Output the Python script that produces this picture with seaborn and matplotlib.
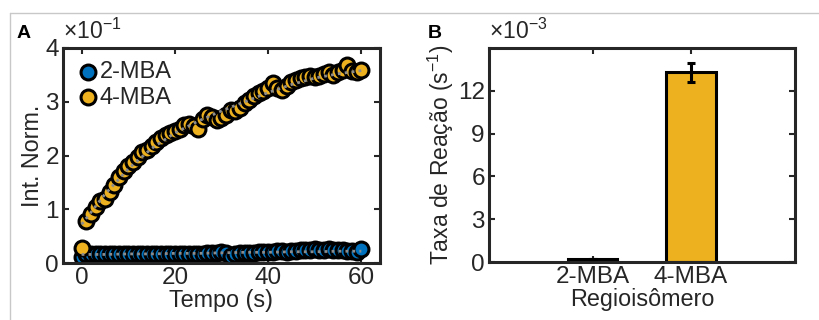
import matplotlib
matplotlib.use("Agg")
import matplotlib.pyplot as plt
from matplotlib.lines import Line2D
from matplotlib.ticker import FuncFormatter
import numpy as np
import pandas as pd
import seaborn as sns

# --- data ---
tempo = list(range(0, 61))
int_4mba = [0.028, 0.078, 0.092, 0.105, 0.115, 0.120, 0.132, 0.145, 0.160, 0.172,
            0.180, 0.188, 0.197, 0.206, 0.210, 0.218, 0.226, 0.232, 0.238, 0.242,
            0.246, 0.250, 0.256, 0.258, 0.254, 0.250, 0.268, 0.276, 0.272, 0.266,
            0.270, 0.276, 0.284, 0.282, 0.288, 0.298, 0.304, 0.310, 0.316, 0.320,
            0.326, 0.334, 0.325, 0.322, 0.330, 0.336, 0.340, 0.344, 0.346, 0.348,
            0.346, 0.348, 0.352, 0.356, 0.350, 0.356, 0.360, 0.368, 0.358, 0.356,
            0.360]
int_2mba = [0.012, 0.016, 0.017, 0.016, 0.017, 0.017, 0.016, 0.017, 0.017, 0.016,
            0.017, 0.017, 0.016, 0.017, 0.017, 0.016, 0.016, 0.017, 0.017, 0.016,
            0.017, 0.017, 0.016, 0.017, 0.017, 0.016, 0.017, 0.018, 0.018, 0.019,
            0.020, 0.018, 0.014, 0.016, 0.018, 0.018, 0.019, 0.019, 0.020, 0.020,
            0.021, 0.021, 0.022, 0.022, 0.021, 0.022, 0.023, 0.024, 0.025, 0.025,
            0.026, 0.025, 0.025, 0.026, 0.025, 0.024, 0.024, 0.023, 0.022, 0.021,
            0.026]
fit_t = [0, 5, 10, 15, 20, 25, 30, 35, 40, 45, 50, 55, 60]
fit_4mba = [0.072, 0.128, 0.175, 0.213, 0.242, 0.264, 0.283, 0.300, 0.317, 0.332,
            0.344, 0.352, 0.358]
fit_2mba = [0.016, 0.016, 0.017, 0.017, 0.018, 0.018, 0.019, 0.020, 0.020, 0.021,
            0.021, 0.022, 0.022]

isomeros = ["2-MBA", "4-MBA"]
taxa = [0.00025, 0.0133]
taxa_err = [0.0, 0.00065]

blue = "#0072BD"
yellow = "#EDB120"
axcol = "#262626"

sns.set_theme(style="ticks")
plt.rcParams["font.family"] = ["Liberation Sans", "DejaVu Sans"]
plt.rcParams["mathtext.fontset"] = "custom"
plt.rcParams["mathtext.rm"] = "Liberation Sans"
plt.rcParams["mathtext.it"] = "Liberation Sans"

fig = plt.figure(figsize=(8.2, 3.2), dpi=100)
axA = fig.add_axes([0.0768, 0.178, 0.3866, 0.672])
axB = fig.add_axes([0.5963, 0.181, 0.3732, 0.669])

# frame lines of the page
fig.add_artist(Line2D([0.012, 1.0], [0.958, 0.958], color="#c8c8c8", lw=1.0))
fig.add_artist(Line2D([0.012, 0.012], [0.0, 0.958], color="#c8c8c8", lw=1.0))

# --- panel A ---
dfA = pd.DataFrame({"t": tempo + tempo,
                    "v": int_2mba + int_4mba,
                    "s": ["2-MBA"] * len(tempo) + ["4-MBA"] * len(tempo)})
for name, col in [("2-MBA", blue), ("4-MBA", yellow)]:
    sub = dfA[dfA["s"] == name]
    sns.scatterplot(data=sub, x="t", y="v", ax=axA, color=col, s=115,
                    edgecolor="black", linewidth=2.2, label=name, zorder=2)
sns.lineplot(x=fit_t, y=fit_2mba, ax=axA, color="#8c8c8c", lw=2.0,
             linestyle=(0, (1, 1.5)), zorder=3)
sns.lineplot(x=fit_t, y=fit_4mba, ax=axA, color="#8c8c8c", lw=2.0,
             linestyle=(0, (1, 1.5)), zorder=3)

axA.set_xlim(-4, 64)
axA.set_ylim(0, 0.4)
axA.set_xticks([0, 20, 40, 60])
axA.set_yticks([0, 0.1, 0.2, 0.3, 0.4])
axA.yaxis.set_major_formatter(FuncFormatter(lambda v, p: f"{v * 10:g}"))
axA.set_xlabel("Tempo (s)", fontsize=16.8, color=axcol, labelpad=0)
axA.set_ylabel("Int. Norm.", fontsize=16.8, color=axcol, labelpad=1)
leg = axA.legend(loc="upper left", frameon=False, fontsize=17, handletextpad=0.0,
                 borderaxespad=0.1, labelspacing=0.15, borderpad=0.45,
                 handlelength=1.0)
for t in leg.get_texts():
    t.set_color(axcol)
axA.text(0.0, 1.02, r"$\times 10^{-1}$", transform=axA.transAxes, fontsize=16.5,
         color=axcol, ha="left", va="bottom")

# --- panel B ---
sns.barplot(x=isomeros, y=taxa, ax=axB, color=yellow, width=0.5,
            edgecolor="black", linewidth=2.2, saturation=1)
axB.errorbar(isomeros, taxa, yerr=taxa_err, fmt="none", ecolor="black",
             elinewidth=2.2, capsize=3, capthick=2.2, zorder=5)
axB.set_xlim(-1.06, 2.06)
axB.set_ylim(0, 0.015)
axB.set_yticks([0, 0.003, 0.006, 0.009, 0.012])
axB.yaxis.set_major_formatter(FuncFormatter(lambda v, p: f"{v * 1000:.0f}"))
axB.set_xlabel("Regioisômero", fontsize=16.8, color=axcol, labelpad=0)
axB.set_ylabel(r"Taxa de Reação (s$^{-1}$)", fontsize=16.5, color=axcol, labelpad=1)
axB.text(0.0, 1.02, r"$\times 10^{-3}$", transform=axB.transAxes, fontsize=16.5,
         color=axcol, ha="left", va="bottom")

for ax in (axA, axB):
    for sp in ax.spines.values():
        sp.set_visible(True)
        sp.set_color(axcol)
        sp.set_linewidth(2.2)
    ax.tick_params(direction="in", length=4, width=1.5, color=axcol,
                   labelsize=17.5, labelcolor=axcol, top=True, right=True, pad=3)

fig.text(0.02, 0.88, "A", fontsize=14, fontweight="bold", color="black")
fig.text(0.522, 0.88, "B", fontsize=14, fontweight="bold", color="black")

fig.savefig("out.png", dpi=100)
